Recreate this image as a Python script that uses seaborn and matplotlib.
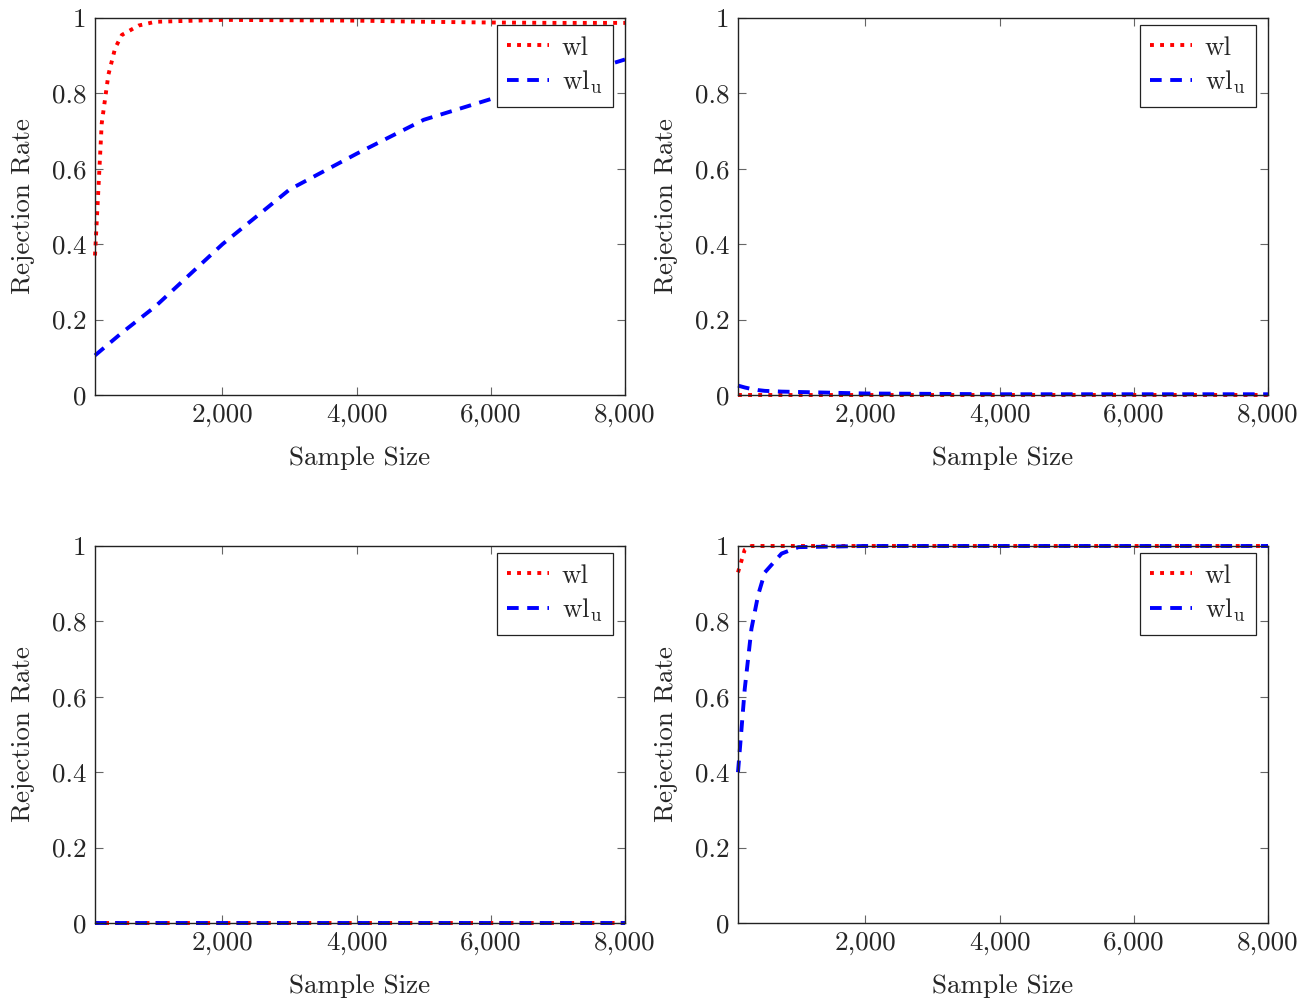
import matplotlib
matplotlib.use("Agg")
import matplotlib.pyplot as plt
import seaborn as sns
import pandas as pd
from matplotlib.ticker import FuncFormatter, FixedLocator

sample_sizes = [100, 200, 300, 400, 500, 750, 1000, 2000, 3000, 4000, 5000, 6000, 7000, 8000]

# panel 1 (top-left)
p1_wl = [0.37, 0.72, 0.85, 0.92, 0.955, 0.98, 0.99, 0.995, 0.994, 0.993, 0.99, 0.988, 0.987, 0.987]
p1_wlu = [0.105, 0.12, 0.135, 0.15, 0.165, 0.20, 0.235, 0.40, 0.545, 0.64, 0.73, 0.785, 0.835, 0.89]
# panel 2 (top-right)
p2_wl = [0.0, 0.0, 0.0, 0.0, 0.0, 0.0, 0.0, 0.0, 0.0, 0.0, 0.0, 0.0, 0.0, 0.0]
p2_wlu = [0.025, 0.02, 0.016, 0.013, 0.011, 0.009, 0.008, 0.004, 0.003, 0.002, 0.002, 0.002, 0.002, 0.002]
# panel 3 (bottom-left)
p3_wl = [0.0] * 14
p3_wlu = [0.0] * 14
# panel 4 (bottom-right)
p4_wl = [0.93, 0.99, 1.0, 1.0, 1.0, 1.0, 1.0, 1.0, 1.0, 1.0, 1.0, 1.0, 1.0, 1.0]
p4_wlu = [0.40, 0.62, 0.78, 0.87, 0.93, 0.98, 0.997, 1.0, 1.0, 1.0, 1.0, 1.0, 1.0, 1.0]

series_labels = ["wl", r"wl$_\mathrm{u}$"]
x_ticks = [2000, 4000, 6000, 8000]
y_ticks = [0, 0.2, 0.4, 0.6, 0.8, 1.0]

sns.set_theme(style="white")
plt.rcParams["font.family"] = ["cmr10", "DejaVu Serif"]
plt.rcParams["mathtext.fontset"] = "cm"
plt.rcParams["axes.formatter.use_mathtext"] = True
plt.rcParams["axes.unicode_minus"] = False

fig = plt.figure(figsize=(13.11, 10.0), dpi=100)
W, H = 1311, 1000
boxes = [(95, 18), (738, 18), (95, 546), (738, 546)]
aw, ah = 530, 377
panels = [(p1_wl, p1_wlu), (p2_wl, p2_wlu), (p3_wl, p3_wlu), (p4_wl, p4_wlu)]

def xfmt(v, pos):
    return f"{int(v):,}"

def yfmt(v, pos):
    if abs(v) < 1e-9:
        return "0"
    if abs(v - 1) < 1e-9:
        return "1"
    return f"{v:.1f}"

fs = 19.5
for (lx, ty), (wl, wlu) in zip(boxes, panels):
    ax = fig.add_axes([lx / W, 1 - (ty + ah) / H, aw / W, ah / H])
    sns.lineplot(x=sample_sizes, y=wl, ax=ax, color="red", lw=2.8,
                 label=series_labels[0], clip_on=False)
    sns.lineplot(x=sample_sizes, y=wlu, ax=ax, color="blue", lw=2.8,
                 label=series_labels[1], clip_on=False)
    ax.lines[0].set_linestyle((0, (1, 1.6)))
    ax.lines[1].set_linestyle((0, (3, 2.2)))
    ax.set_xlim(100, 8000)
    ax.set_ylim(0, 1)
    ax.xaxis.set_major_locator(FixedLocator(x_ticks))
    ax.yaxis.set_major_locator(FixedLocator(y_ticks))
    ax.xaxis.set_major_formatter(FuncFormatter(xfmt))
    ax.yaxis.set_major_formatter(FuncFormatter(yfmt))
    ax.tick_params(direction="in", length=6, width=0.8, color="#666666",
                   top=True, right=True, bottom=True, left=True,
                   labelsize=fs, pad=6)
    for s in ax.spines.values():
        s.set_color("#222222")
        s.set_linewidth(1.0)
    ax.set_xlabel("Sample Size", fontsize=fs, labelpad=14)
    ax.set_ylabel("Rejection Rate", fontsize=fs, labelpad=12)
    handles, labels = ax.get_legend_handles_labels()
    leg = ax.legend(handles, labels, loc="upper right", fontsize=fs,
                    frameon=True, fancybox=False, framealpha=1,
                    edgecolor="#222222", handlelength=1.55, handletextpad=0.45,
                    borderpad=0.4, labelspacing=0.33, borderaxespad=0,
                    bbox_to_anchor=(0.977, 0.982))
    leg.get_frame().set_linewidth(0.9)

fig.savefig("out.png", dpi=100)
